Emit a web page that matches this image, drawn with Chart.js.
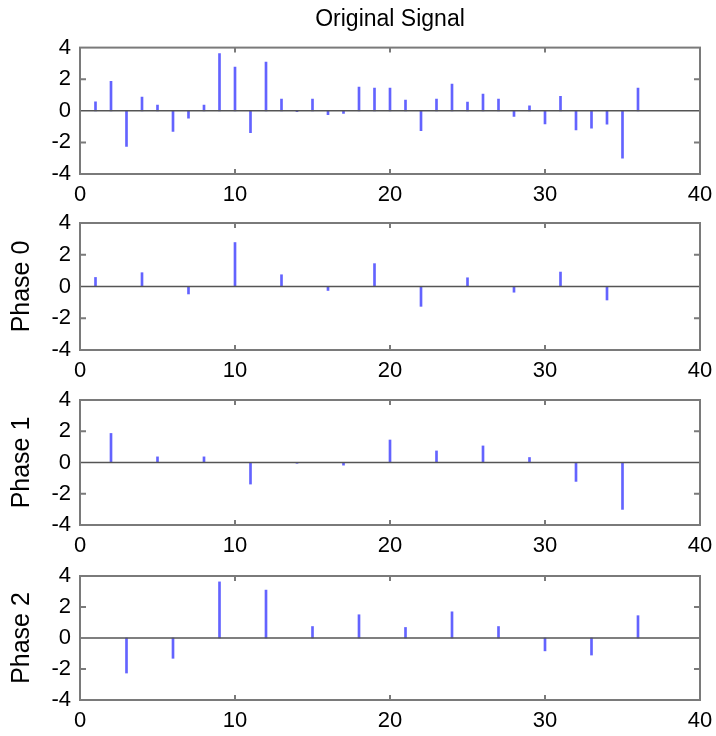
<!DOCTYPE html>
<html>
<head>
<meta charset="utf-8">
<script src="https://cdn.jsdelivr.net/npm/chart.js"></script>
<style>
  body { margin: 0; background: #fff; }
  .pane { position: absolute; left: 0; width: 716px; }
</style>
</head>
<body>
<div class="pane" style="top:0px;height:210px"><canvas id="c0"></canvas></div>
<div class="pane" style="top:207px;height:179px"><canvas id="c1"></canvas></div>
<div class="pane" style="top:384px;height:177px"><canvas id="c2"></canvas></div>
<div class="pane" style="top:560px;height:176px"><canvas id="c3"></canvas></div>
<script>
/* data */
const samples = [1,2,3,4,5,6,7,8,9,10,11,12,13,14,15,16,17,18,
                 19,20,21,22,23,24,25,26,27,28,29,30,31,32,33,34,35,36];
const signal = [0.57, 1.86, -2.26, 0.87, 0.36, -1.31, -0.47, 0.36, 3.62, 2.77, -1.38, 3.09,
                0.74, -0.05, 0.74, -0.25, -0.17, 1.50, 1.44, 1.44, 0.68, -1.25, 0.74, 1.69,
                0.55, 1.06, 0.74, -0.36, 0.32, -0.83, 0.91, -1.21, -1.10, -0.85, -3.00, 1.44];
const xTicks = [0, 10, 20, 30, 40];
const yTicks = [-4, -2, 0, 2, 4];
const panelTitles = ['Original Signal', 'Phase 0', 'Phase 1', 'Phase 2'];

const stemColor = 'rgba(60,60,255,0.8)';
const boxColor = '#7a7a7a';
const FONT = '"Liberation Sans", Arial, Helvetica, sans-serif';

// which samples go in each panel: all, then every 3rd starting at 1, 2, 3
function pointsFor(panel) {
  const pts = [];
  samples.forEach((s, i) => {
    if (panel === 0 || (s - panel) % 3 === 0) pts.push({x: s, y: signal[i]});
  });
  return pts;
}

// box round the plot, inner tick marks and the zero line
const frame = {
  id: 'frame',
  afterDatasetsDraw(chart) {
    const {ctx, chartArea: a, scales: {x, y}} = chart;
    ctx.save();
    ctx.strokeStyle = '#555';
    ctx.lineWidth = 1.5;
    const y0 = y.getPixelForValue(0);
    ctx.beginPath();
    ctx.moveTo(a.left, y0);
    ctx.lineTo(a.right, y0);
    ctx.stroke();

    ctx.strokeStyle = boxColor;
    ctx.lineWidth = 2;
    ctx.strokeRect(a.left, a.top, a.right - a.left, a.bottom - a.top);
    ctx.beginPath();
    x.ticks.forEach(t => {
      if (t.value <= 0 || t.value >= 40) return;
      const px = x.getPixelForValue(t.value);
      ctx.moveTo(px, a.top); ctx.lineTo(px, a.top + 5);
      ctx.moveTo(px, a.bottom); ctx.lineTo(px, a.bottom - 5);
    });
    y.ticks.forEach(t => {
      if (t.value === 0 || Math.abs(t.value) === 4) return;
      const py = y.getPixelForValue(t.value);
      ctx.moveTo(a.left, py); ctx.lineTo(a.left + 6, py);
      ctx.moveTo(a.right, py); ctx.lineTo(a.right - 6, py);
    });
    ctx.stroke();
    ctx.restore();
  }
};

function makePanel(k) {
  const first = k === 0;
  new Chart(document.getElementById('c' + k), {
    type: 'bar',
    data: {
      datasets: [{
        data: pointsFor(k),
        backgroundColor: stemColor,
        barThickness: 2
      }]
    },
    options: {
      responsive: true,
      maintainAspectRatio: false,
      animation: false,
      layout: {padding: {top: first ? 0 : 16, right: 16, left: 0, bottom: 0}},
      plugins: {
        legend: {display: false},
        tooltip: {enabled: false},
        title: {
          display: first,
          text: panelTitles[0],
          fullSize: false,
          color: '#000',
          font: {family: FONT, size: 23, weight: 'normal'},
          padding: {top: 6, bottom: 14}
        }
      },
      scales: {
        x: {
          type: 'linear',
          offset: false,
          min: 0, max: 40,
          afterBuildTicks: s => { s.ticks = xTicks.map(v => ({value: v})); },
          afterFit: s => { s.height = 36; s.paddingLeft = 0; s.paddingRight = 0; },
          grid: {display: false, drawTicks: false, offset: false},
          border: {display: false},
          ticks: {color: '#000', padding: 8, maxRotation: 0,
                  font: {family: FONT, size: 22}}
        },
        y: {
          min: -4, max: 4,
          afterBuildTicks: s => { s.ticks = yTicks.map(v => ({value: v})); },
          afterFit: s => { s.width = 80; s.paddingTop = 0; s.paddingBottom = 0; },
          grid: {display: false, drawTicks: false},
          border: {display: false},
          ticks: {color: '#000', padding: 9, font: {family: FONT, size: 22}},
          title: {
            display: !first,
            text: panelTitles[k],
            color: '#000',
            padding: {top: 7, bottom: 0},
            font: {family: FONT, size: 25}
          }
        }
      }
    },
    plugins: [frame]
  });
}

[0, 1, 2, 3].forEach(makePanel);
</script>
</body>
</html>
